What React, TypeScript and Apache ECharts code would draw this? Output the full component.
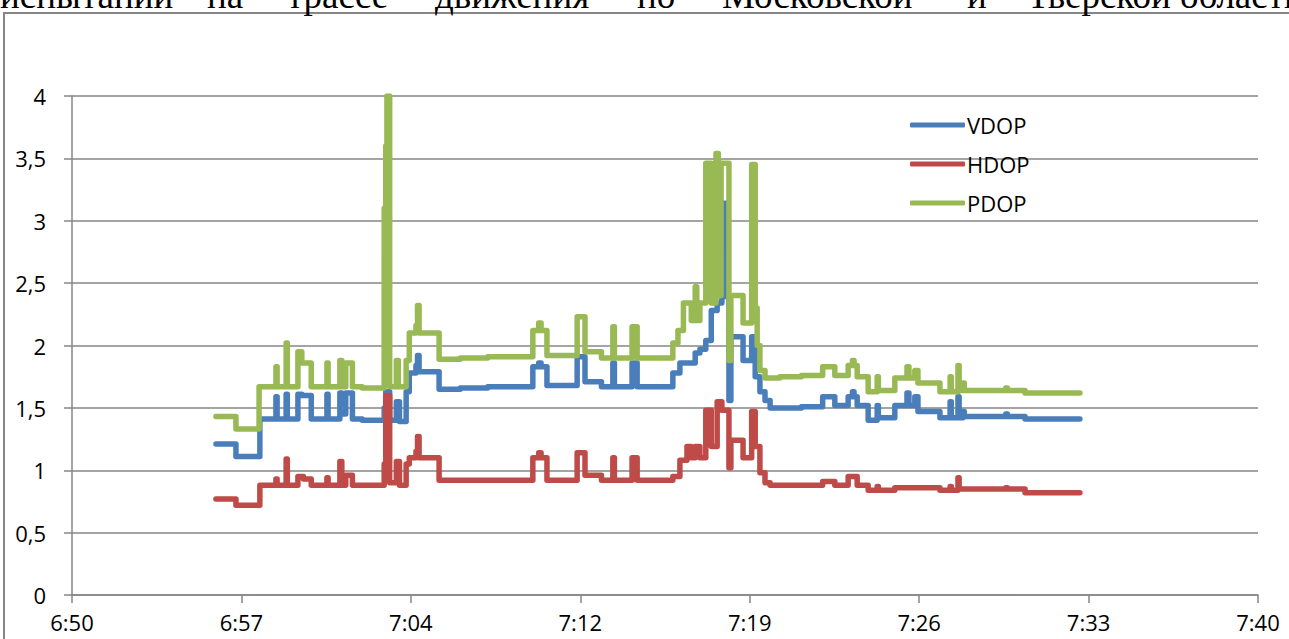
import React, { useEffect, useRef } from "react";
import * as echarts from "echarts";

// Time axis: minutes after 6:50, ticks every 7.2 min (0.005 day)
const AXIS_START_MIN = 410; // 6:50
const X_MAX = 50.4;
const X_INTERVAL = 7.2;
const Y_TICKS_MAX = 4;

const seriesNames = ["VDOP", "HDOP", "PDOP"];
const seriesColors = ["#4a7ebb", "#be4b48", "#98b954"];

// Samples: [time, value], each value held until the next sample
const vdop: [string, number][] = [
  ["6:56:07", 1.21], ["6:56:58", 1.11], ["6:57:59", 1.41],
  ["6:58:40", 1.59], ["6:58:43", 1.41], ["6:59:06", 1.61], ["6:59:09", 1.41],
  ["6:59:36", 1.61], ["6:59:46", 1.6], ["7:00:10", 1.41],
  ["7:00:50", 1.61], ["7:00:53", 1.41], ["7:01:23", 1.62], ["7:01:28", 1.45],
  ["7:01:38", 1.62], ["7:01:55", 1.41], ["7:02:20", 1.4],
  ["7:03:16", 1.5], ["7:03:20", 1.63], ["7:03:30", 1.4], ["7:03:47", 1.55], ["7:03:55", 1.39],
  ["7:04:12", 1.63], ["7:04:20", 1.78], ["7:04:37", 1.84], ["7:04:41", 1.92], ["7:04:45", 1.79],
  ["7:05:36", 1.65], ["7:06:30", 1.66], ["7:07:40", 1.67],
  ["7:09:35", 1.83], ["7:09:50", 1.86], ["7:09:56", 1.83], ["7:10:11", 1.68],
  ["7:11:28", 1.91], ["7:11:48", 1.71], ["7:12:30", 1.67],
  ["7:12:59", 1.86], ["7:13:03", 1.67], ["7:13:48", 1.86], ["7:14:01", 1.67],
  ["7:15:32", 1.78], ["7:15:50", 1.86], ["7:16:29", 1.94], ["7:16:41", 1.97],
  ["7:16:56", 2.04], ["7:17:10", 2.28], ["7:17:25", 2.34], ["7:17:37", 2.39],
  ["7:17:43", 3.14], ["7:17:50", 2.39], ["7:17:55", 1.56], ["7:18:00", 2.07],
  ["7:18:31", 1.88], ["7:18:53", 2.07], ["7:19:02", 1.75], ["7:19:14", 1.63],
  ["7:19:27", 1.56], ["7:19:40", 1.5], ["7:21:00", 1.51],
  ["7:21:54", 1.59], ["7:22:25", 1.52], ["7:22:59", 1.59], ["7:23:10", 1.63], ["7:23:14", 1.59],
  ["7:23:22", 1.52], ["7:23:50", 1.4], ["7:24:13", 1.52], ["7:24:16", 1.42],
  ["7:24:58", 1.52], ["7:25:29", 1.62], ["7:25:34", 1.52], ["7:25:49", 1.59], ["7:25:57", 1.47],
  ["7:26:53", 1.42], ["7:27:19", 1.55], ["7:27:22", 1.42], ["7:27:39", 1.59], ["7:27:42", 1.42],
  ["7:27:52", 1.47], ["7:27:55", 1.43], ["7:29:41", 1.45], ["7:29:45", 1.43],
  ["7:30:30", 1.41], ["7:32:50", 1.41],
];

const hdop: [string, number][] = [
  ["6:56:07", 0.77], ["6:56:58", 0.72], ["6:57:59", 0.88],
  ["6:58:40", 0.93], ["6:58:43", 0.88], ["6:59:06", 1.09], ["6:59:09", 0.88],
  ["6:59:36", 0.95], ["6:59:50", 0.93], ["7:00:10", 0.88],
  ["7:00:50", 0.94], ["7:00:53", 0.88], ["7:01:23", 1.07], ["7:01:28", 0.88],
  ["7:01:38", 0.96], ["7:01:55", 0.88], ["7:02:20", 0.88],
  ["7:03:16", 1.05], ["7:03:20", 1.6], ["7:03:30", 0.9], ["7:03:47", 1.07], ["7:03:55", 0.88],
  ["7:04:12", 1.05], ["7:04:20", 1.1], ["7:04:37", 1.15], ["7:04:41", 1.27], ["7:04:45", 1.1],
  ["7:05:36", 0.92],
  ["7:09:35", 1.1], ["7:09:50", 1.14], ["7:09:56", 1.1], ["7:10:11", 0.92],
  ["7:11:28", 1.14], ["7:11:48", 0.96], ["7:12:30", 0.92],
  ["7:12:59", 1.1], ["7:13:03", 0.92], ["7:13:48", 1.1], ["7:14:01", 0.92],
  ["7:15:32", 0.95], ["7:15:50", 1.08], ["7:16:08", 1.19], ["7:16:19", 1.1],
  ["7:16:29", 1.19], ["7:16:41", 1.1], ["7:16:56", 1.48], ["7:17:10", 1.19],
  ["7:17:25", 1.55], ["7:17:37", 1.48], ["7:17:55", 1.02], ["7:18:00", 1.24],
  ["7:18:31", 1.1], ["7:18:53", 1.47], ["7:19:02", 1.19], ["7:19:14", 0.98],
  ["7:19:27", 0.9], ["7:19:40", 0.88],
  ["7:21:54", 0.91], ["7:22:25", 0.88], ["7:22:59", 0.95], ["7:23:22", 0.88],
  ["7:23:50", 0.84], ["7:24:13", 0.87], ["7:24:16", 0.84], ["7:24:58", 0.86],
  ["7:26:53", 0.84], ["7:27:19", 0.87], ["7:27:22", 0.84], ["7:27:39", 0.94], ["7:27:42", 0.85],
  ["7:29:41", 0.86], ["7:29:45", 0.85], ["7:30:30", 0.82], ["7:32:50", 0.82],
];

const pdop: [string, number][] = [
  ["6:56:07", 1.43], ["6:56:58", 1.33], ["6:57:57", 1.67],
  ["6:58:40", 1.83], ["6:58:43", 1.67], ["6:59:06", 2.02], ["6:59:09", 1.67],
  ["6:59:36", 1.95], ["6:59:46", 1.86], ["7:00:10", 1.67],
  ["7:00:50", 1.86], ["7:00:53", 1.67], ["7:01:23", 1.88], ["7:01:28", 1.67],
  ["7:01:38", 1.86], ["7:01:55", 1.67], ["7:02:20", 1.66],
  ["7:03:16", 3.1], ["7:03:20", 3.6], ["7:03:23", 4.0], ["7:03:30", 1.67],
  ["7:03:47", 1.88], ["7:03:52", 1.67], ["7:04:12", 1.88], ["7:04:20", 2.1],
  ["7:04:37", 2.16], ["7:04:41", 2.32], ["7:04:45", 2.1], ["7:05:36", 1.89],
  ["7:06:30", 1.9], ["7:07:40", 1.91],
  ["7:09:35", 2.12], ["7:09:50", 2.18], ["7:09:56", 2.12], ["7:10:11", 1.92],
  ["7:11:28", 2.23], ["7:11:48", 1.95], ["7:12:30", 1.9],
  ["7:12:59", 2.15], ["7:13:03", 1.9], ["7:13:48", 2.15], ["7:14:01", 1.9],
  ["7:15:32", 2.02], ["7:15:45", 2.12], ["7:15:59", 2.34], ["7:16:19", 2.2],
  ["7:16:29", 2.47], ["7:16:33", 2.2], ["7:16:41", 2.34], ["7:16:56", 3.46],
  ["7:17:10", 2.34], ["7:17:22", 3.54], ["7:17:28", 2.4], ["7:17:35", 3.46],
  ["7:17:55", 1.88], ["7:18:00", 2.4], ["7:18:31", 2.18], ["7:18:53", 3.45],
  ["7:19:02", 2.3], ["7:19:07", 2.0], ["7:19:14", 1.8], ["7:19:27", 1.74],
  ["7:20:05", 1.75], ["7:21:00", 1.76],
  ["7:21:54", 1.83], ["7:22:25", 1.76], ["7:22:59", 1.84], ["7:23:10", 1.88], ["7:23:14", 1.84],
  ["7:23:22", 1.75], ["7:23:50", 1.63], ["7:24:13", 1.75], ["7:24:16", 1.64],
  ["7:24:58", 1.74], ["7:25:29", 1.83], ["7:25:34", 1.74], ["7:25:49", 1.8], ["7:25:57", 1.7],
  ["7:26:53", 1.63], ["7:27:19", 1.75], ["7:27:22", 1.63], ["7:27:39", 1.84], ["7:27:42", 1.64],
  ["7:27:52", 1.7], ["7:27:55", 1.64], ["7:29:41", 1.66], ["7:29:45", 1.64],
  ["7:30:30", 1.62], ["7:32:50", 1.62],
];

// Cropped line of document text above the chart
const headerWords = ["испытаний", "на", "трассе", "движения", "по", "Московской", "и", "Тверской", "области"];
const headerWordX = [0, 207, 287, 435, 637, 722, 967, 1027, 1180];

function toAxisMinutes(t: string): number {
  const [h, m, s] = t.split(":").map(Number);
  return h * 60 + m + (s || 0) / 60 - AXIS_START_MIN;
}

function formatClock(v: number): string {
  const total = Math.round(AXIS_START_MIN + v);
  const h = Math.floor(total / 60);
  const m = total % 60;
  return `${h}:${m < 10 ? "0" + m : m}`;
}

const FONT = "'Open Sans', 'Noto Sans', sans-serif";

export default function App() {
  const ref = useRef<HTMLDivElement>(null);

  useEffect(() => {
    if (!ref.current) return;
    const chart = echarts.init(ref.current, undefined, { renderer: "svg" });
    const all = [vdop, hdop, pdop];

    const option: any = {
      animation: false,
      backgroundColor: "#ffffff",
      grid: { left: 72, right: 31, top: 96, bottom: 44, containLabel: false },
      legend: {
        orient: "vertical",
        left: 905,
        top: 109,
        itemWidth: 55,
        itemHeight: 5,
        itemGap: 17,
        icon: "roundRect",
        textStyle: { fontFamily: FONT, fontSize: 22, color: "#000", padding: [0, 0, 0, -3] },
        data: seriesNames,
      },
      xAxis: {
        type: "value",
        min: 0,
        max: X_MAX,
        interval: X_INTERVAL,
        axisLine: { show: true, lineStyle: { color: "#868686", width: 1.5 } },
        axisTick: { show: true, length: 8, lineStyle: { color: "#868686", width: 1.5 } },
        splitLine: { show: false },
        axisLabel: {
          formatter: (v: number) => formatClock(v),
          fontFamily: FONT,
          fontSize: 22,
          color: "#000",
          margin: 16,
        },
      },
      yAxis: {
        type: "value",
        min: 0,
        max: Y_TICKS_MAX,
        interval: 0.5,
        axisLine: { show: true, lineStyle: { color: "#868686", width: 1.5 } },
        axisTick: { show: true, length: 8, lineStyle: { color: "#868686", width: 1.5 } },
        splitLine: { show: true, lineStyle: { color: "#868686", width: 1.5 } },
        axisLabel: {
          formatter: (v: number) => String(v).replace(".", ","),
          fontFamily: FONT,
          fontSize: 22,
          color: "#000",
          margin: 26,
        },
      },
      series: all.map((d, i) => ({
        name: seriesNames[i],
        type: "line",
        step: "end",
        showSymbol: false,
        symbol: "none",
        color: seriesColors[i],
        lineStyle: { width: 5.5, color: seriesColors[i], cap: "round", join: "round" },
        data: d.map(([t, v]) => [toAxisMinutes(t), v]),
      })),
      graphic: [
        {
          type: "rect",
          shape: { x: 4, y: 13, width: 1400, height: 800 },
          style: { fill: "none", stroke: "#868686", lineWidth: 2 },
          silent: true,
        },
        ...headerWords.map((w, i) => ({
          type: "text",
          x: headerWordX[i],
          y: -5,
          style: {
            text: w,
            fontFamily: "'Liberation Serif', 'DejaVu Serif', serif",
            fontSize: 37,
            fill: "#000",
            verticalAlign: "middle",
          },
          silent: true,
        })),
      ],
    };

    chart.setOption(option);
    return () => chart.dispose();
  }, []);

  return (
    <div
      ref={ref}
      style={{ position: "fixed", left: 0, top: 0, width: 1289, height: 639, background: "#fff" }}
    />
  );
}
